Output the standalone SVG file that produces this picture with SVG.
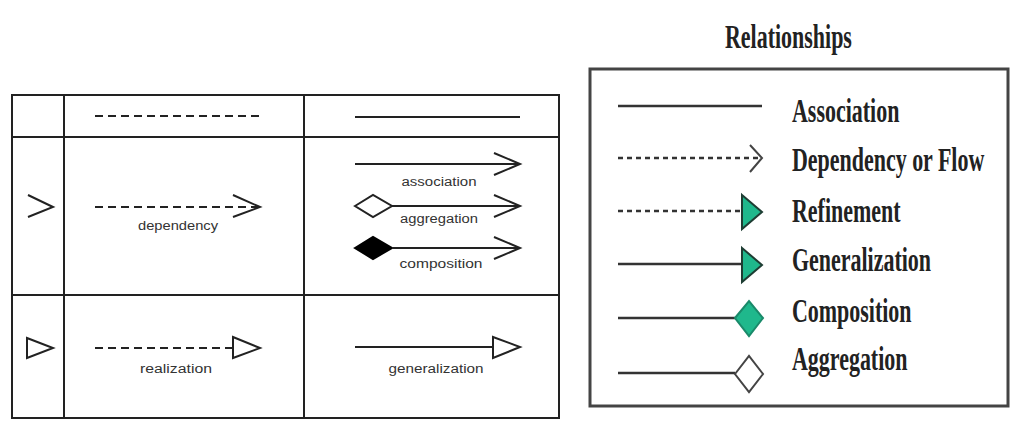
<svg xmlns="http://www.w3.org/2000/svg" width="1031" height="421" viewBox="0 0 1031 421">
<style>
.grid{stroke:#222;stroke-width:2;fill:none}
.ln{stroke:#222;stroke-width:2;fill:none}
.dash{stroke:#222;stroke-width:2;fill:none;stroke-dasharray:8 5}
.lbl{font-family:"Liberation Sans",Arial,sans-serif;font-size:12px;fill:#333;text-anchor:middle}
.lg{stroke:#333;stroke-width:2.5;fill:none}
.lgd{stroke:#333;stroke-width:2.5;fill:none;stroke-dasharray:5 4}
.grn{fill:#1fb88c;stroke:#1e3d33;stroke-width:2}
.wht{fill:#fff;stroke:#444;stroke-width:2}
.ttl{font-family:"Liberation Serif","Times New Roman",serif;font-weight:bold;font-size:34px;fill:#222}
</style>
<rect width="1031" height="421" fill="#fff"/>
<g id="table">
<rect class="grid" x="12" y="95" width="547" height="323"/>
<line class="grid" x1="64" y1="95" x2="64" y2="418"/>
<line class="grid" x1="304" y1="95" x2="304" y2="418"/>
<line class="grid" x1="12" y1="137" x2="559" y2="137"/>
<line class="grid" x1="12" y1="295" x2="559" y2="295"/>
</g>
<g id="connectors">
<g id="top-dashed"><line class="dash" x1="95" y1="116" x2="260" y2="116"/></g>
<g id="top-solid"><line class="ln" x1="355" y1="117" x2="520" y2="117"/></g>
<g id="open-arrow-symbol"><polyline class="ln" points="28,195 53,207 28,217"/></g>
<g id="dependency">
<line class="dash" x1="95" y1="207" x2="258" y2="207"/>
<polyline class="ln" points="233,195 260,207 233,217"/>
<text class="lbl" x="178" y="230" textLength="80" lengthAdjust="spacingAndGlyphs">dependency</text>
</g>
<g id="association">
<line class="ln" x1="355" y1="164" x2="519" y2="164"/>
<polyline class="ln" points="494,153 520,164 494,175"/>
<text class="lbl" x="439" y="186" textLength="75" lengthAdjust="spacingAndGlyphs">association</text>
</g>
<g id="aggregation">
<polygon class="ln" style="fill:#fff" points="355,206 373,195 392,206 373,217"/>
<line class="ln" x1="392" y1="206" x2="519" y2="206"/>
<polyline class="ln" points="494,195 520,206 494,217"/>
<text class="lbl" x="439" y="223" textLength="78" lengthAdjust="spacingAndGlyphs">aggregation</text>
</g>
<g id="composition">
<polygon style="fill:#000;stroke:#000;stroke-width:2" points="355,248 373,237 392,248 373,259"/>
<line class="ln" x1="392" y1="248" x2="519" y2="248"/>
<polyline class="ln" points="494,237 520,248 494,259"/>
<text class="lbl" x="441" y="268" textLength="83" lengthAdjust="spacingAndGlyphs">composition</text>
</g>
<g id="triangle-symbol"><polygon class="ln" style="fill:#fff" points="27,338 53,348 27,358"/></g>
<g id="realization">
<line class="dash" x1="95" y1="348" x2="233" y2="348"/>
<polygon class="ln" style="fill:#fff" points="233,337 260,348 233,358"/>
<text class="lbl" x="176" y="373" textLength="72" lengthAdjust="spacingAndGlyphs">realization</text>
</g>
<g id="generalization">
<line class="ln" x1="355" y1="347" x2="493" y2="347"/>
<polygon class="ln" style="fill:#fff" points="493,337 520,347 493,358"/>
<text class="lbl" x="436" y="373" textLength="95" lengthAdjust="spacingAndGlyphs">generalization</text>
</g>
</g>
<g id="legend">
<text class="ttl" transform="translate(725,48) scale(0.646,1)">Relationships</text>
<rect x="590" y="69" width="418" height="337" fill="#fff" stroke="#444" stroke-width="3"/>
<g id="lg-association">
<line class="lg" x1="618" y1="106" x2="762" y2="106"/>
<text class="ttl" transform="translate(792,122) scale(0.646,1)">Association</text>
</g>
<g id="lg-dependency">
<line class="lgd" x1="618" y1="158" x2="758" y2="158"/>
<polyline style="fill:none;stroke:#444;stroke-width:2" points="750,145 762,158 750,172"/>
<text class="ttl" transform="translate(792,171) scale(0.646,1)">Dependency or Flow</text>
</g>
<g id="lg-refinement">
<line class="lgd" x1="618" y1="211" x2="742" y2="211"/>
<polygon class="grn" points="742,195 762,212 742,229"/>
<text class="ttl" transform="translate(792,222) scale(0.646,1)">Refinement</text>
</g>
<g id="lg-generalization">
<line class="lg" x1="618" y1="264" x2="742" y2="264"/>
<polygon class="grn" points="742,248 762,265 742,282"/>
<text class="ttl" transform="translate(792,271) scale(0.646,1)">Generalization</text>
</g>
<g id="lg-composition">
<line class="lg" x1="618" y1="318" x2="735" y2="318"/>
<polygon class="grn" style="stroke:#1a8a6a" points="735,318 749,301 763,318 749,336"/>
<text class="ttl" transform="translate(792,322) scale(0.646,1)">Composition</text>
</g>
<g id="lg-aggregation">
<line class="lg" x1="618" y1="373" x2="735" y2="373"/>
<polygon class="wht" points="735,374 749,356 763,374 749,392"/>
<text class="ttl" transform="translate(792,370) scale(0.646,1)">Aggregation</text>
</g>
</g>
</svg>
